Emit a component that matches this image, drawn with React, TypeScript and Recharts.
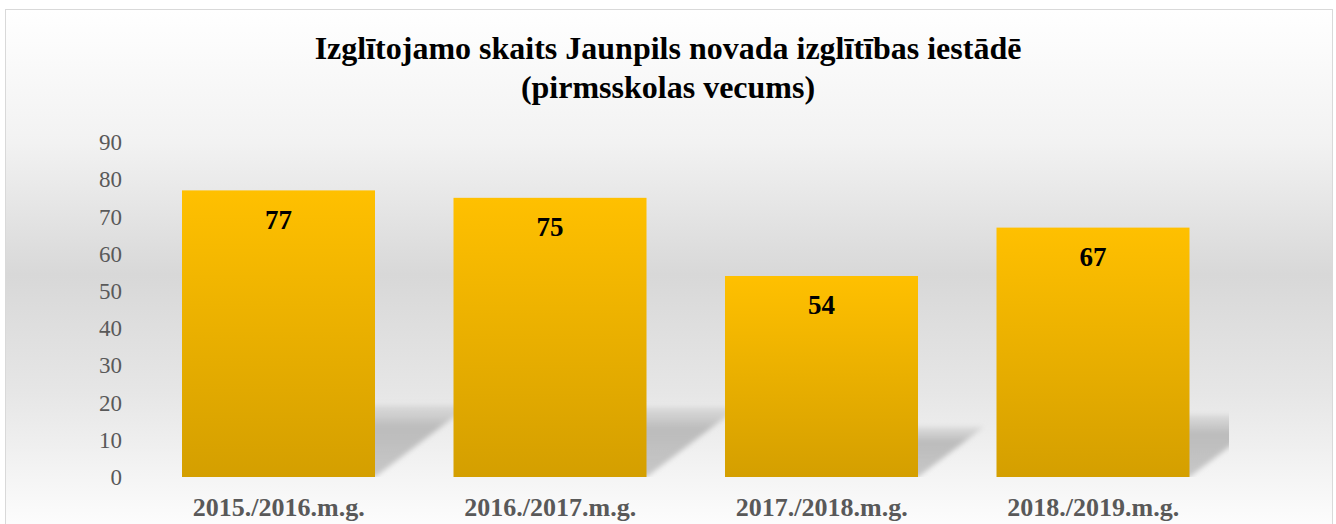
import React from 'react';
import { BarChart, Bar, XAxis, YAxis, LabelList } from 'recharts';

// Number of pupils per school year (pre-school age)
const YEARS = ['2015./2016.m.g.', '2016./2017.m.g.', '2017./2018.m.g.', '2018./2019.m.g.'];
const PUPILS = [77, 75, 54, 67];
const Y_TICKS = [0, 10, 20, 30, 40, 50, 60, 70, 80, 90];

const TITLE_1 = 'Izglītojamo skaits Jaunpils novada izglītības iestādē';
const TITLE_2 = '(pirmsskolas vecums)';

const data = YEARS.map((year, i) => ({ year, value: PUPILS[i] }));

const W = 1336;
const H = 524;
const PLOT_LEFT = 143;
const PLOT_RIGHT = 1229;
const PLOT_TOP = 142;
const PLOT_BOTTOM = 477;
const FONT = '"Liberation Serif", "Times New Roman", serif';

// bar with a skewed, blurred shadow behind it
const ShadowBar = (props: any) => {
  const { x, y, width, height } = props;
  if (height <= 0) return null;
  const base = y + height;
  const top = base - height * 0.25;
  const shift = height * 0.33;
  const pts = [
    [x + 8, base],
    [x + width, base],
    [x + width + shift, top],
    [x + 8 + shift, top],
  ]
    .map((p) => p.join(','))
    .join(' ');
  return (
    <g>
      <g clipPath="url(#plotClip)">
        <polygon points={pts} fill="url(#shadowGrad)" filter="url(#shadowBlur)" />
      </g>
      <rect x={x} y={y} width={width} height={height} fill="url(#barGrad)" />
    </g>
  );
};

export default function App() {
  return (
    <div style={{ position: 'fixed', left: 0, top: 0, width: W, height: H, overflow: 'hidden', background: '#fff' }}>
      <div
        style={{
          position: 'absolute',
          left: 5,
          top: 9,
          width: 1326,
          height: 530,
          border: '1.5px solid #d9d9d9',
          background: 'linear-gradient(to bottom, #ffffff 0%, #f2f2f2 25%, #d8d8d8 50%, #e6e6e6 72%, #ffffff 100%)',
        }}
      />
      <div
        style={{
          position: 'absolute',
          left: 0,
          top: 29,
          width: W,
          textAlign: 'center',
          fontFamily: FONT,
          fontWeight: 'bold',
          fontSize: 32,
          lineHeight: '39px',
          color: '#000',
        }}
      >
        <div>{TITLE_1}</div>
        <div>{TITLE_2}</div>
      </div>
      <div style={{ position: 'absolute', left: 0, top: 0 }}>
        <BarChart
          width={W}
          height={H}
          data={data}
          margin={{ top: PLOT_TOP, right: W - PLOT_RIGHT, bottom: 0, left: 0 }}
        >
          <defs>
            <linearGradient id="barGrad" x1="0" y1="0" x2="0" y2="1">
              <stop offset="0%" stopColor="#FFC000" />
              <stop offset="100%" stopColor="#D49F00" />
            </linearGradient>
            <linearGradient id="shadowGrad" x1="0" y1="0" x2="0" y2="1">
              <stop offset="0%" stopColor="#c4c4c4" stopOpacity={0.4} />
              <stop offset="30%" stopColor="#bcbcbc" stopOpacity={1} />
              <stop offset="100%" stopColor="#c2c2c2" stopOpacity={0.9} />
            </linearGradient>
            <filter id="shadowBlur" x="-20%" y="-20%" width="140%" height="140%">
              <feGaussianBlur stdDeviation="2.5" />
            </filter>
            <clipPath id="plotClip">
              <rect x={PLOT_LEFT} y={0} width={PLOT_RIGHT - PLOT_LEFT} height={PLOT_BOTTOM} />
            </clipPath>
          </defs>
          <XAxis
            dataKey="year"
            height={H - PLOT_BOTTOM}
            axisLine={false}
            tickLine={false}
            tickSize={0}
            tickMargin={21}
            interval={0}
            tick={{ fill: '#595959', fontSize: 26, fontWeight: 'bold', fontFamily: FONT }}
          />
          <YAxis
            width={PLOT_LEFT}
            domain={[0, 90]}
            ticks={Y_TICKS}
            interval={0}
            axisLine={false}
            tickLine={false}
            tickSize={0}
            tickMargin={21}
            tick={{ fill: '#595959', fontSize: 23, fontFamily: FONT }}
          />
          <Bar dataKey="value" barSize={193} shape={<ShadowBar />} isAnimationActive={false}>
            <LabelList
              dataKey="value"
              position="insideTop"
              offset={19}
              style={{ fill: '#000', fontSize: 27, fontWeight: 'bold', fontFamily: FONT }}
            />
          </Bar>
        </BarChart>
      </div>
    </div>
  );
}
